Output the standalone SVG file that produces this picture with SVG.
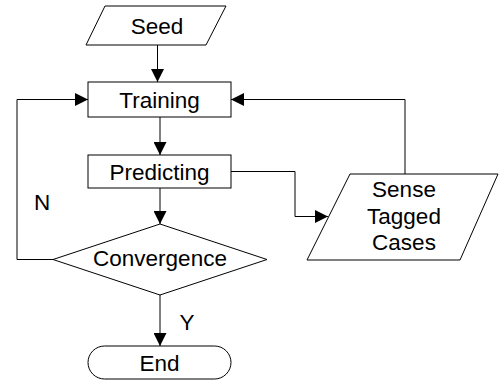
<svg xmlns="http://www.w3.org/2000/svg" width="499" height="381" viewBox="0 0 499 381">
<defs>
<style>
.s{fill:#fff;stroke:#000;stroke-width:1}
.c{fill:none;stroke:#000;stroke-width:1}
text{font-family:"Liberation Sans",Arial,sans-serif;font-size:22.5px;fill:#000}
.m{text-anchor:middle}
</style>
<marker id="ah" markerWidth="13" markerHeight="13" refX="13" refY="6.5" orient="auto" markerUnits="userSpaceOnUse">
<path d="M0,0 L13,6.5 L0,13 Z" fill="#000"/>
</marker>
</defs>
<rect width="499" height="381" fill="#fff"/>
<g id="connectors">
<path class="c" d="M157.5,45 V82" marker-end="url(#ah)"/>
<path class="c" d="M160,117 V155" marker-end="url(#ah)"/>
<path class="c" d="M160,188 V224" marker-end="url(#ah)"/>
<path class="c" d="M160,295 V346" marker-end="url(#ah)"/>
<path class="c" d="M53,259.5 H17 V99.5 H88" marker-end="url(#ah)"/>
<path class="c" d="M231,171.5 H295 V216.5 H328" marker-end="url(#ah)"/>
<path class="c" d="M405,174 V99.5 H231" marker-end="url(#ah)"/>
<text x="42" y="210" class="m">N</text>
<text x="187" y="330" class="m">Y</text>
</g>
<g id="seed">
<polygon class="s" points="105,6 226,6 206,45 86,45"/>
<text x="157" y="33.5" class="m">Seed</text>
</g>
<g id="training">
<rect class="s" x="88" y="82" width="143" height="35"/>
<text x="159.5" y="107.5" class="m">Training</text>
</g>
<g id="predicting">
<rect class="s" x="88" y="155" width="143" height="33"/>
<text x="159.5" y="179.5" class="m">Predicting</text>
</g>
<g id="convergence">
<polygon class="s" points="160,224 267,259.5 160,295 53,259.5"/>
<text x="160" y="265.5" class="m">Convergence</text>
</g>
<g id="end">
<rect class="s" x="88" y="346" width="143" height="33" rx="16.5" ry="16.5"/>
<text x="159.5" y="370.5" class="m">End</text>
</g>
<g id="sense">
<polygon class="s" points="350,174 498,174 460,260 307,260"/>
<text x="404" y="197" class="m">Sense</text>
<text x="404" y="223.5" class="m">Tagged</text>
<text x="404" y="250" class="m">Cases</text>
</g>
</svg>
